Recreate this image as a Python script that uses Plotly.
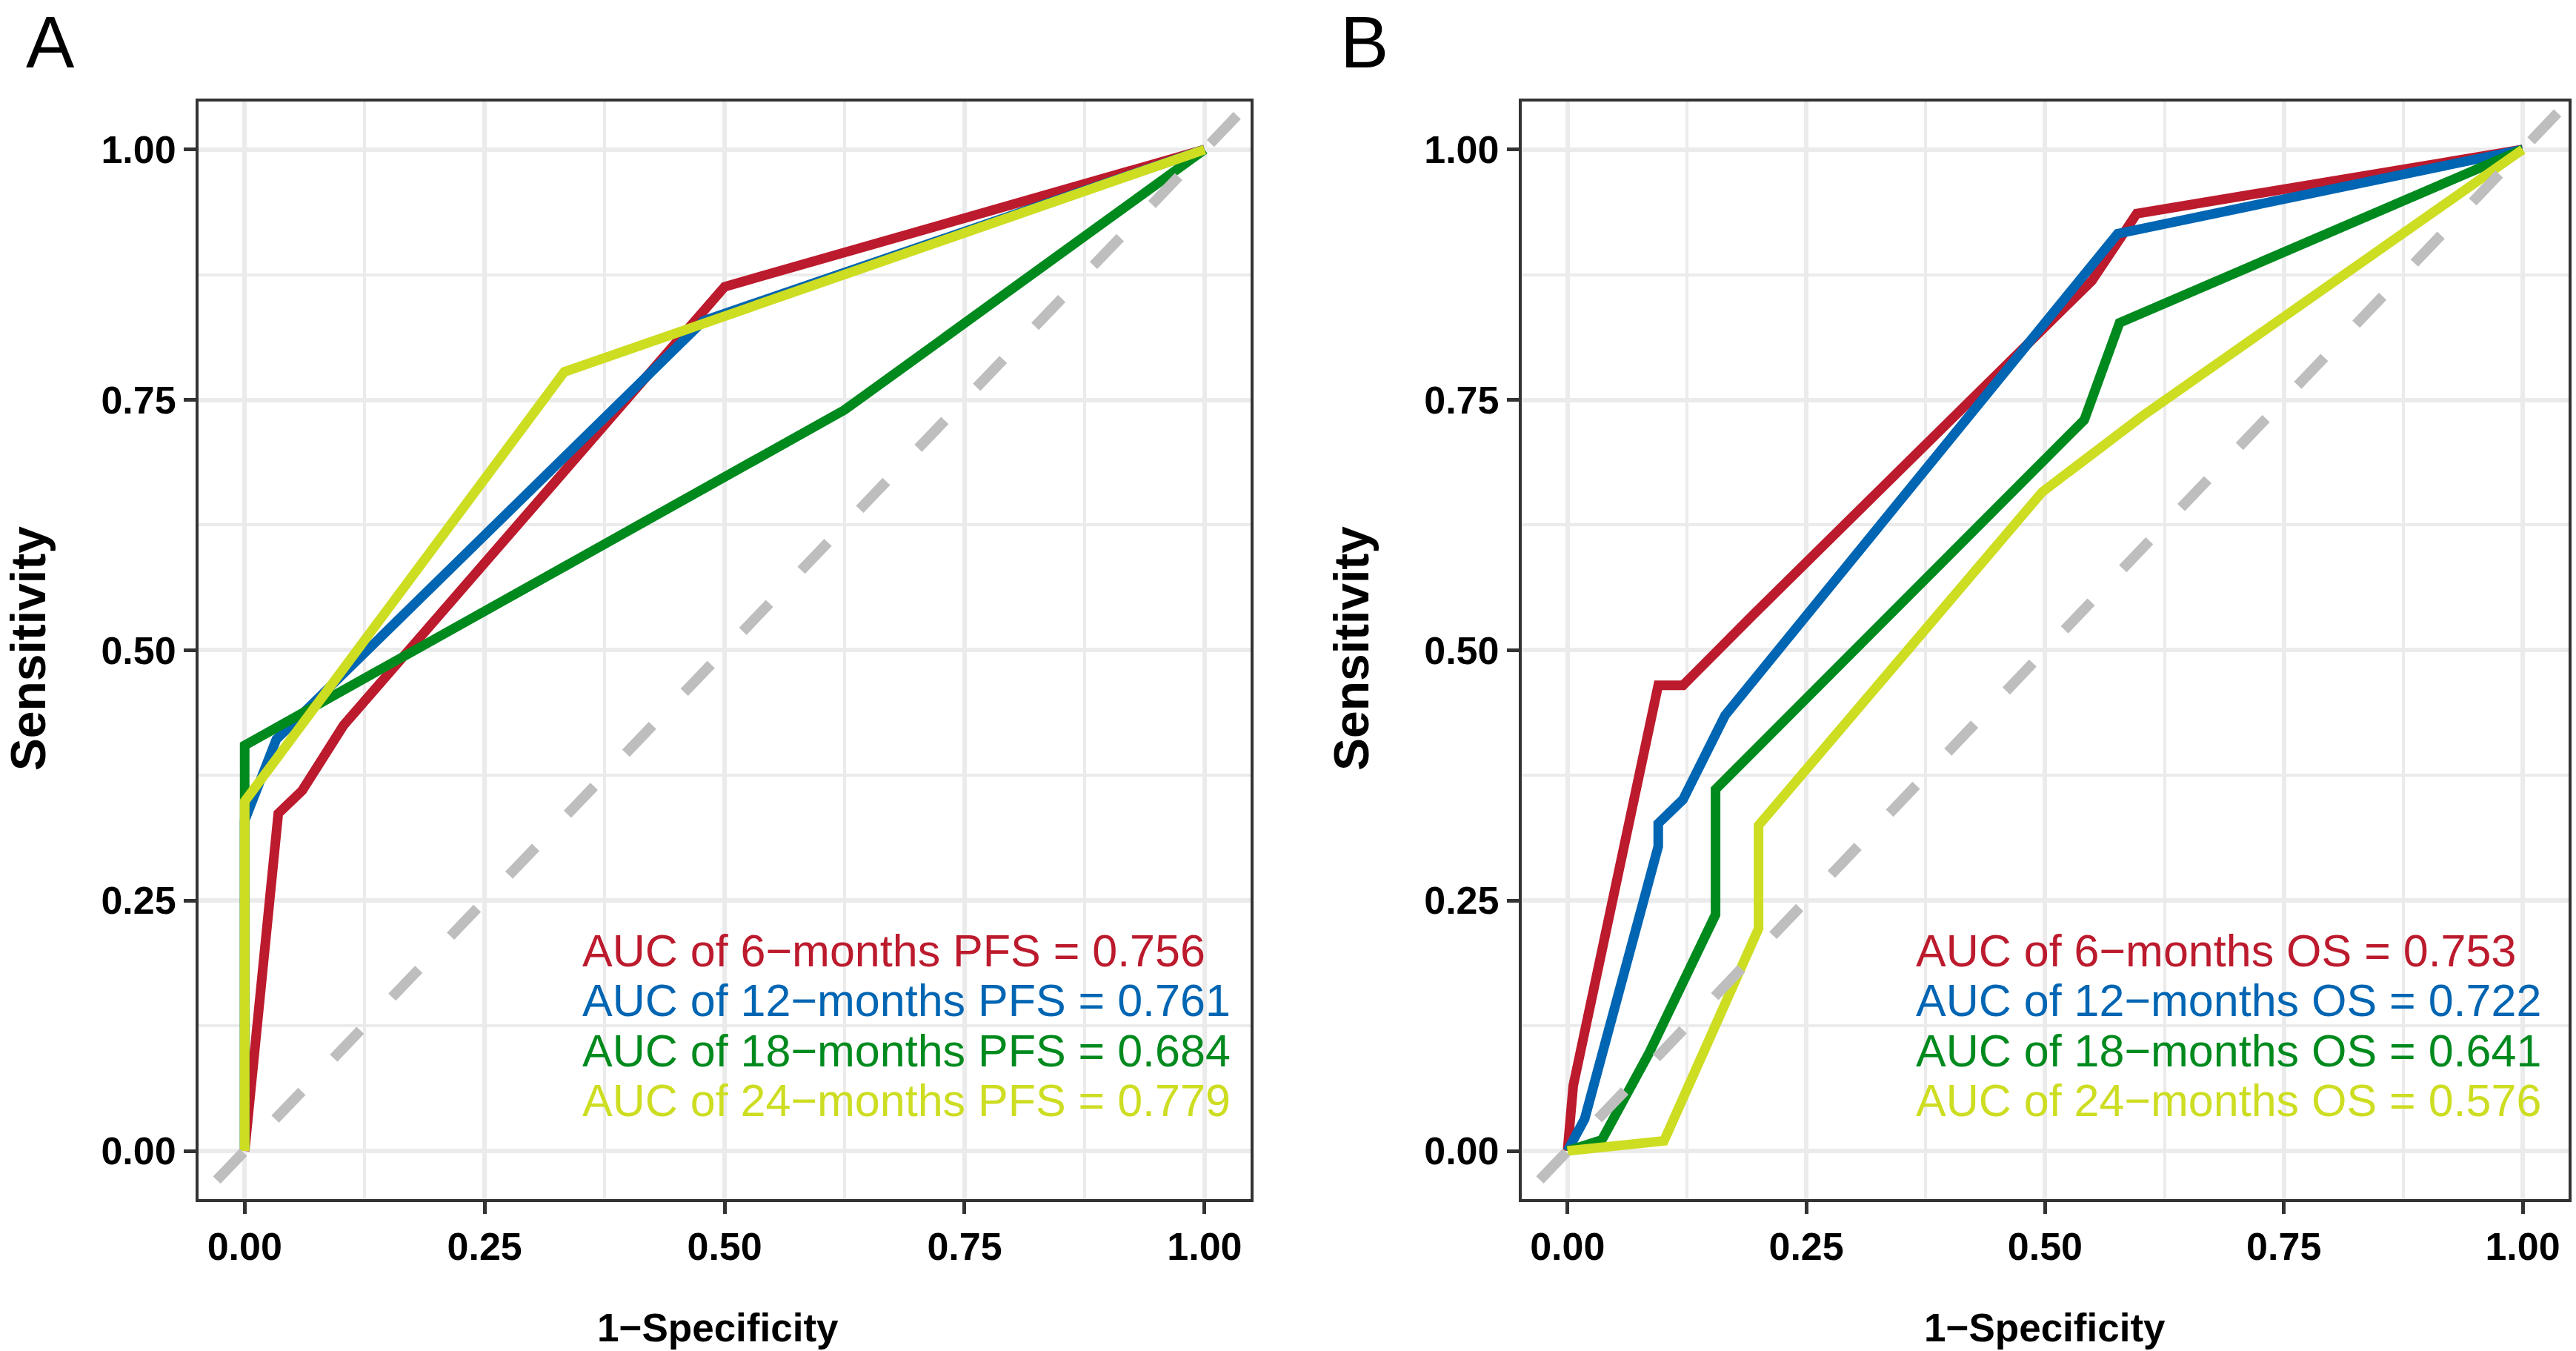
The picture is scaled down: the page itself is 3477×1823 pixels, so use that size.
import plotly.graph_objects as go

# ROC curves (x = 1-specificity, y = sensitivity)
pfs_labels = ["6-months", "12-months", "18-months", "24-months"]
pfs_auc = ["0.756", "0.761", "0.684", "0.779"]
pfs_x = [
    [0, 0.035, 0.06, 0.103, 0.5, 1],
    [0, 0, 0.033, 0.478, 1],
    [0, 0, 0.625, 1],
    [0, 0, 0.333, 1],
]
pfs_y = [
    [0, 0.337, 0.36, 0.425, 0.863, 1],
    [0, 0.33, 0.411, 0.829, 1],
    [0, 0.405, 0.74, 1],
    [0, 0.349, 0.778, 1],
]

os_labels = ["6-months", "12-months", "18-months", "24-months"]
os_auc = ["0.753", "0.722", "0.641", "0.576"]
os_x = [
    [0, 0.006, 0.095, 0.121, 0.194, 0.549, 0.596, 1],
    [0, 0.018, 0.095, 0.095, 0.121, 0.165, 0.576, 1],
    [0, 0.036, 0.085, 0.155, 0.155, 0.541, 0.578, 1],
    [0, 0.101, 0.2, 0.2, 0.497, 0.602, 1],
]
os_y = [
    [0, 0.065, 0.465, 0.465, 0.535, 0.869, 0.936, 1],
    [0, 0.032, 0.304, 0.327, 0.351, 0.435, 0.916, 1],
    [0, 0.011, 0.097, 0.236, 0.361, 0.73, 0.827, 1],
    [0, 0.01, 0.222, 0.325, 0.658, 0.734, 1],
]

# reference diagonal (clipped by the axis range)
diag = [-0.09, 1.1]

colors = ["#BC1A2D", "#0065B2", "#008A1E", "#CDDD22"]
FONT = "Liberation Sans"
RNG = [-0.048, 1.048]


def axis_style(domain, anchor):
    return dict(
        domain=domain, anchor=anchor, range=RNG,
        tick0=0, dtick=0.25, tickformat=".2f",
        showgrid=True, gridcolor="#EBEBEB", gridwidth=6,
        minor=dict(tick0=0, dtick=0.125, showgrid=True,
                   gridcolor="#EBEBEB", gridwidth=3.5),
        showline=True, mirror=True, linecolor="#333333", linewidth=4,
        ticks="outside", ticklen=16, tickwidth=5, tickcolor="#333333",
        tickfont=dict(family=FONT, size=52, color="black", weight="bold"),
        zeroline=False, fixedrange=True,
    )


fig = go.Figure()

panels = [
    ("x", "y", pfs_x, pfs_y, pfs_labels, pfs_auc, "PFS", 0.35),
    ("x2", "y2", os_x, os_y, os_labels, os_auc, "OS", 0.363),
]

for xa, ya, xs, ys, labels, aucs, kind, text_x in panels:
    for i in range(4):
        fig.add_trace(go.Scatter(
            x=xs[i], y=ys[i], mode="lines", xaxis=xa, yaxis=ya,
            line=dict(color=colors[i], width=13),
            hoverinfo="skip",
        ))
    fig.add_trace(go.Scatter(
        x=diag, y=diag, mode="lines", xaxis=xa, yaxis=ya,
        line=dict(color="#BEBEBE", width=14, dash="52px,62px"),
        hoverinfo="skip",
    ))
    # AUC labels, one line each
    for i in range(4):
        txt = "AUC of %s %s = %s" % (labels[i].replace("-", "\u2212"), kind, aucs[i])
        fig.add_annotation(
            x=text_x, y=0.2 - 0.05 * i, xref=xa, yref=ya,
            text=txt, showarrow=False, xanchor="left", yanchor="middle",
            font=dict(family=FONT, size=61, color=colors[i]),
        )

# axis titles and panel letters
for xc, ytx in [(0.2787, 0.011), (0.7939, 0.5246)]:
    fig.add_annotation(
        x=xc, y=0.0, xref="paper", yref="paper", text="1\u2212Specificity",
        showarrow=False, xanchor="center", yanchor="bottom",
        font=dict(family=FONT, size=53, color="black", weight="bold"),
    )
    fig.add_annotation(
        x=ytx, y=0.52, xref="paper", yref="paper", text="Sensitivity",
        showarrow=False, textangle=-90, xanchor="center", yanchor="middle",
        font=dict(family=FONT, size=66, color="black", weight="bold"),
    )

for letter, lx in [("A", 0.0196), ("B", 0.5295)]:
    fig.add_annotation(
        x=lx, y=1.0, xref="paper", yref="paper", text=letter,
        showarrow=False, xanchor="center", yanchor="top",
        font=dict(family=FONT, size=98, color="black"),
    )

fig.update_layout(
    width=3477, height=1823,
    margin=dict(l=0, r=0, t=0, b=0),
    paper_bgcolor="white", plot_bgcolor="white",
    showlegend=False,
    xaxis=axis_style([0.0771, 0.4855], "y"),
    yaxis=axis_style([0.1125, 0.9249], "x"),
    xaxis2=axis_style([0.5907, 0.9971], "y2"),
    yaxis2=axis_style([0.1125, 0.9249], "x2"),
)

# no page margin so the figure sits at the window's top-left corner
fig.write_html("out.html", config={"displayModeBar": False},
               post_script="document.body.style.margin='0';")
